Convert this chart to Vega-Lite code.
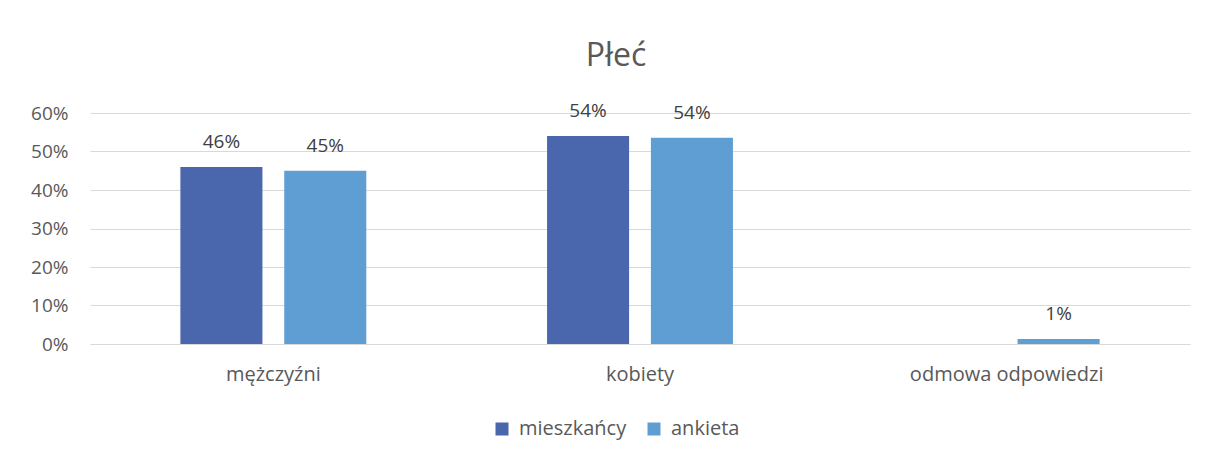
{
  "$schema": "https://vega.github.io/schema/vega-lite/v6.json",
  "width": 1100,
  "height": 231,
  "autosize": "none",
  "padding": {"left": 90, "top": 113, "right": 18, "bottom": 117},
  "background": "white",
  "config": {"view": {"stroke": null}, "font": "Open Sans"},
  "title": {"text": "Płeć", "fontSize": 32, "fontWeight": "normal", "color": "#595959", "anchor": "middle", "offset": 29, "dx": -24},
  "data": {"values": [
    {"kategoria": "mężczyźni", "seria": "mieszkańcy", "wartosc": 0.46, "etykieta": "46%"},
    {"kategoria": "mężczyźni", "seria": "ankieta", "wartosc": 0.45, "etykieta": "45%"},
    {"kategoria": "kobiety", "seria": "mieszkańcy", "wartosc": 0.54, "etykieta": "54%"},
    {"kategoria": "kobiety", "seria": "ankieta", "wartosc": 0.536, "etykieta": "54%"},
    {"kategoria": "odmowa odpowiedzi", "seria": "ankieta", "wartosc": 0.013, "etykieta": "1%"}
  ]},
  "encoding": {
    "x": {"field": "kategoria", "type": "nominal", "sort": ["mężczyźni", "kobiety", "odmowa odpowiedzi"],
      "scale": {"paddingInner": 0.493, "paddingOuter": 0.2465},
      "axis": {"title": null, "labelAngle": 0, "labelFontSize": 20, "labelLimit": 500, "labelColor": "#595959", "domainColor": "#d9d9d9", "domainWidth": 1, "ticks": false, "labelPadding": 20}},
    "xOffset": {"field": "seria", "type": "nominal", "sort": ["mieszkańcy", "ankieta"], "scale": {"paddingInner": 0.21, "paddingOuter": 0}},
    "y": {"field": "wartosc", "type": "quantitative", "scale": {"domain": [0, 0.6]},
      "axis": {"title": null, "format": ".0%", "values": [0, 0.1, 0.2, 0.3, 0.4, 0.5, 0.6], "labelFontSize": 19, "labelColor": "#595959", "gridColor": "#d9d9d9", "domain": false, "ticks": false, "labelPadding": 22}}
  },
  "layer": [
    {"mark": {"type": "bar"},
     "encoding": {"color": {"field": "seria", "type": "nominal", "sort": ["mieszkańcy", "ankieta"],
        "scale": {"domain": ["mieszkańcy", "ankieta"], "range": ["#4A66AC", "#5F9ED3"]},
        "legend": {"title": null, "orient": "none", "legendX": 402, "legendY": 306, "direction": "horizontal", "symbolType": "square", "symbolSize": 169, "symbolStrokeWidth": 0, "labelFontSize": 20, "labelColor": "#595959", "labelOffset": 7, "columnPadding": 17}}}},
    {"mark": {"type": "text", "baseline": "bottom", "dy": -15, "fontSize": 19, "color": "#404040"},
     "encoding": {"text": {"field": "etykieta"}}}
  ]
}
